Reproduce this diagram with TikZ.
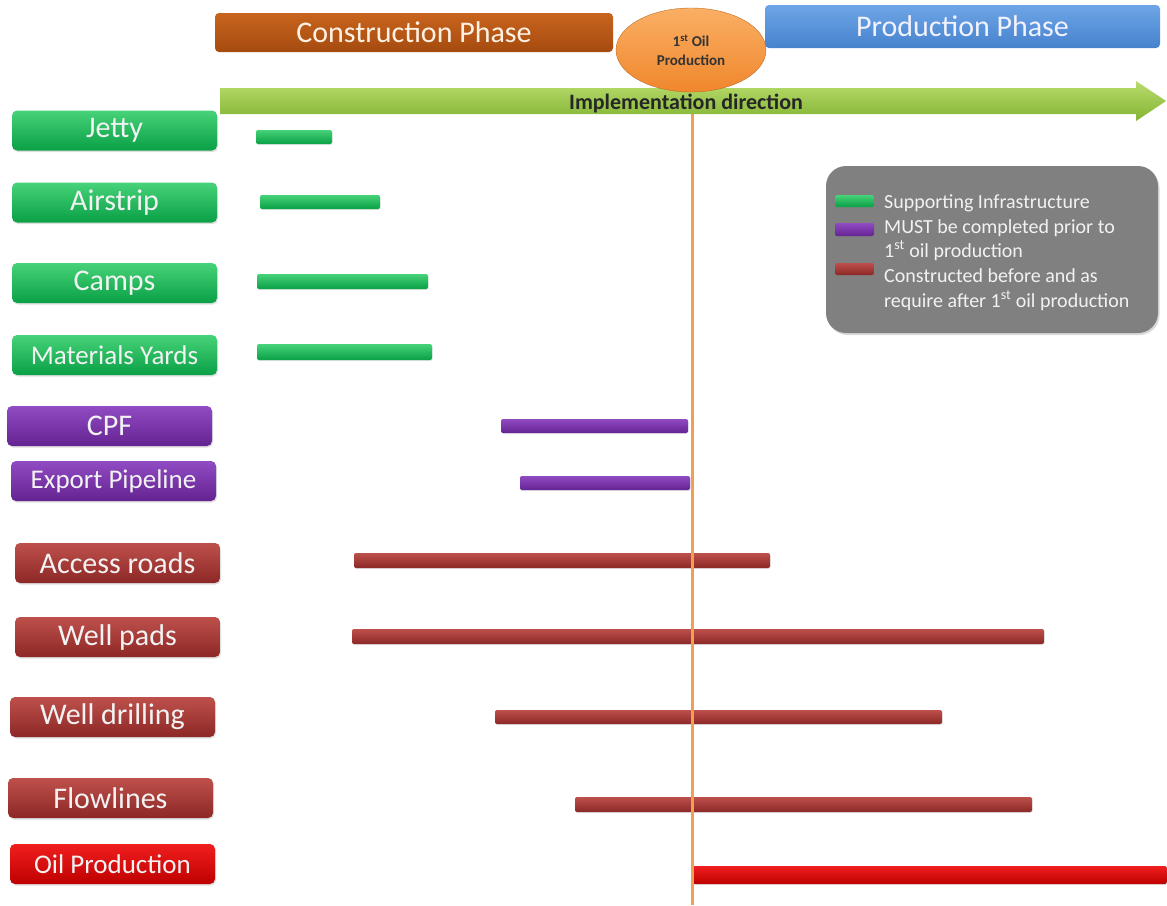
\documentclass[tikz,border=0pt]{standalone}
\usepackage{fontspec}
\setmainfont{Carlito}
\usetikzlibrary{shapes.geometric,shadows}
\definecolor{constrtop}{RGB}{200,100,30}
\definecolor{constrbot}{RGB}{165,75,15}
\definecolor{prodtop}{RGB}{110,165,230}
\definecolor{prodbot}{RGB}{70,130,205}
\definecolor{oiltop}{RGB}{250,175,100}
\definecolor{oilbot}{RGB}{240,135,45}
\definecolor{arrtop}{RGB}{185,220,110}
\definecolor{arrbot}{RGB}{130,180,50}
\definecolor{vline}{RGB}{240,160,80}
\definecolor{grntop}{RGB}{70,210,120}
\definecolor{grnbot}{RGB}{10,160,70}
\definecolor{purtop}{RGB}{145,75,195}
\definecolor{purbot}{RGB}{100,35,145}
\definecolor{brktop}{RGB}{190,80,75}
\definecolor{brkbot}{RGB}{140,40,38}
\definecolor{redtop}{RGB}{240,30,30}
\definecolor{redbot}{RGB}{190,0,0}
\definecolor{leggray}{RGB}{128,128,128}
\definecolor{lbltext}{RGB}{242,242,242}
\tikzset{
  lbl/.style={rounded corners=5pt,minimum width=205pt,minimum height=40pt,inner sep=0pt,
    text=lbltext,font=\fontsize{30}{34}\selectfont,
    drop shadow={opacity=.25,shadow xshift=1pt,shadow yshift=-1.5pt}},
  small/.style={font=\fontsize{27}{32}\selectfont},
  grnlbl/.style={lbl,top color=grntop,bottom color=grnbot},
  purlbl/.style={lbl,top color=purtop,bottom color=purbot},
  brklbl/.style={lbl,top color=brktop,bottom color=brkbot},
  redlbl/.style={lbl,top color=redtop,bottom color=redbot},
  bar/.style={rounded corners=2pt,drop shadow={opacity=.2,shadow xshift=.5pt,shadow yshift=-1pt}},
  grnbar/.style={bar,top color=grntop,bottom color=grnbot},
  purbar/.style={bar,top color=purtop,bottom color=purbot},
  brkbar/.style={bar,top color=brktop,bottom color=brkbot},
  redbar/.style={bar,top color=redtop,bottom color=redbot},
  phase/.style={rounded corners=4pt,inner sep=0pt,font=\fontsize{30}{34}\selectfont},
  legtext/.style={anchor=base west,inner sep=0pt,text=lbltext,font=\fontsize{20}{24}\selectfont}
}
\begin{document}
\begin{tikzpicture}[x=1pt,y=-1pt]
\useasboundingbox (0,0) rectangle (1167,905);
% bars
\shade[grnbar] (256,130) rectangle (332,144);
\shade[grnbar] (260,195) rectangle (380,209);
\shade[grnbar] (257,274) rectangle (428,289);
\shade[grnbar] (257,344) rectangle (432,360);
\shade[purbar] (501,419) rectangle (688,433);
\shade[purbar] (520,476) rectangle (690,490);
\shade[brkbar] (354,553) rectangle (770,568);
\shade[brkbar] (352,629) rectangle (1044,644);
\shade[brkbar] (495,710) rectangle (942,724);
\shade[brkbar] (575,797) rectangle (1032,812);
\shade[redbar] (693,866) rectangle (1167,884);
% 1st oil line
\coordinate (linetop) at (692,90);
\coordinate (lineend) at (692,905);
\draw[vline,line width=3pt] (linetop) -- (lineend);
% direction arrow
\shade[top color=arrtop,bottom color=arrbot] (220,88) -- (1136,88) -- (1136,81) -- (1166,101)
  -- (1136,121) -- (1136,114) -- (220,114) -- cycle;
\node[font=\bfseries\fontsize{22}{26}\selectfont,text=black!85] (impl) at (686,103) {Implementation direction};
% phases
\node[phase,top color=constrtop,bottom color=constrbot,text=white!90!orange,minimum width=398pt,minimum height=39pt] (constr) at (414,32.5) {Construction Phase};
\node[phase,top color=prodtop,bottom color=prodbot,text=white!95!blue,minimum width=395pt,minimum height=43pt] (prod) at (962.5,26.5) {Production Phase};
\node[ellipse,draw=oilbot!80!black,top color=oiltop,bottom color=oilbot,minimum width=150pt,minimum height=84pt,inner sep=0pt,
  align=center,text=black!80,font=\bfseries\fontsize{15}{19}\selectfont] (oil) at (691,50) {1\textsuperscript{st} Oil\\Production};
% labels
\node[grnlbl] (jetty) at (114.5,130.5) {Jetty};
\node[grnlbl] (air) at (114.5,202.5) {Airstrip};
\node[grnlbl] (camps) at (114.5,283) {Camps};
\node[grnlbl,small] (yards) at (114.5,355) {Materials Yards};
\node[purlbl] (cpf) at (109.5,426) {CPF};
\node[purlbl,small] (export) at (113.5,481) {Export Pipeline};
\node[brklbl] (roads) at (117.5,563) {Access roads};
\node[brklbl] (pads) at (117.5,637) {Well pads};
\node[brklbl] (drill) at (112.5,717) {Well drilling};
\node[brklbl] (flow) at (110.5,798) {Flowlines};
\node[redlbl,small] (prodn) at (112.5,864) {Oil Production};
% legend
\node[fill=leggray,rounded corners=20pt,minimum width=332pt,minimum height=167pt,
  drop shadow={opacity=.3,shadow xshift=1.5pt,shadow yshift=-2pt}] (legend) at (992,249.5) {};
\shade[grnbar] (835,195) rectangle (874,207);
\shade[purbar] (835,223) rectangle (874,236);
\shade[brkbar] (835,263) rectangle (874,275);
\node[legtext] (leg1) at (884,208) {Supporting Infrastructure};
\node[legtext] (leg2) at (884,233) {MUST be completed prior to};
\node[legtext] (leg3) at (884,257) {1\textsuperscript{st} oil production};
\node[legtext] (leg4) at (884,282) {Constructed before and as};
\node[legtext] (leg5) at (884,307) {require after 1\textsuperscript{st} oil production};
\end{tikzpicture}
\end{document}
